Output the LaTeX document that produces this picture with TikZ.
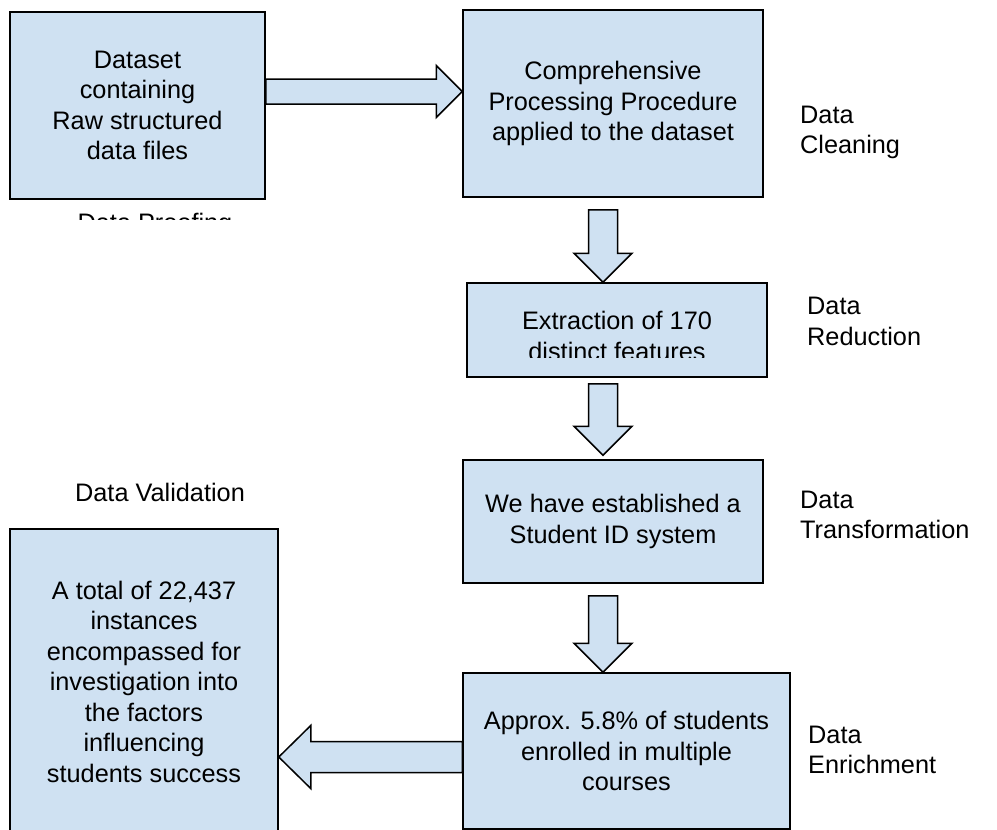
\documentclass[tikz,border=0pt]{standalone}
\usepackage{fontspec}
\setmainfont{Liberation Sans}
\usetikzlibrary{calc}
\usetikzlibrary{positioning}
\definecolor{boxblue}{RGB}{207,225,242}
\newcommand\fatarrow[5]{% start, tip, shaft half width, head half width, head length
  \coordinate (hb) at ($(#2)!#5!(#1)$);
  \draw[arrowbody] ($(#1)!#3!90:(#2)$) -- ($(hb)!#3!90:(#2)$) -- ($(hb)!#4!90:(#2)$) -- (#2)
    -- ($(hb)!#4!-90:(#2)$) -- ($(hb)!#3!-90:(#2)$) -- ($(#1)!#3!-90:(#2)$) -- cycle;
}

\begin{document}
\begin{tikzpicture}[x=1pt,y=-1pt]
  \tikzset{every node/.style={font={\fontsize{25.3}{30.5}\selectfont}}}
  \tikzset{box/.style={draw=black, line width=1.5pt, fill=boxblue, inner sep=0pt, align=center}}
  \tikzset{arrowbody/.style={draw=black, line width=1.5pt, fill=boxblue, line join=miter}}
  \tikzset{lbl/.style={inner sep=0pt, align=left, anchor=west}}

  \useasboundingbox (0,0) rectangle (997,830);
  \clip (0,0) rectangle (997,830);

  \node[box, minimum width=255pt, minimum height=187pt] (raw) at (137.5,105.5) {Dataset\\containing\\Raw structured\\data files};
  \node[box, minimum width=300pt, minimum height=187pt] (proc) at (613,103.5) {Comprehensive\\Processing Procedure\\applied to the dataset};
  \node[box, minimum width=300pt, minimum height=94pt] (extr) at (617,330) {};
  \node[box, minimum width=300pt, minimum height=123pt] (ident) at (613,521.5) {We have established a\\Student ID system};
  \node[box, minimum width=327pt, minimum height=156pt] (enrich) at (626.5,751) {Approx. 5.8\% of students\\enrolled in multiple\\courses};
  \node[box, minimum width=268pt, minimum height=305pt] (valid) at (144,681.5) {A total of 22,437\\instances\\encompassed for\\investigation into\\the factors\\influencing\\students success};

  % text running out of its box
  \begin{scope}
    \clip (extr.north west) rectangle ($(extr.south east)+(0,-20)$);
    \node[inner sep=0pt, align=center] (extrtxt) at (617,336) {Extraction of 170\\distinct features};
  \end{scope}
  \begin{scope}
    \clip (0,200) rectangle (400,219);
    \node[inner sep=0pt, anchor=base] (proof) at (155,231) {Data Proofing};
  \end{scope}

  \node[lbl] (clean) at (800,132.5) {Data\\Cleaning};
  \node[lbl] (reduce) at (807,321.5) {Data\\Reduction};
  \node[lbl] (transf) at (800,515) {Data\\Transformation};
  \node[lbl] (enrichlbl) at (808,750) {Data\\Enrichment};
  \node[inner sep=0pt, anchor=base] (validlbl) at (160,501) {Data Validation};

  \coordinate (a1s) at ([yshift=14pt]raw.east);
  \coordinate (a1t) at (a1s -| proc.west);
  \coordinate (a2s) at ([xshift=-10pt,yshift=-12pt]proc.south);
  \coordinate (a2t) at (a2s |- extr.north);
  \coordinate (a3s) at ($(a2s |- extr.south)+(0,6)$);
  \coordinate (a3t) at ($(a2s |- ident.north)+(0,-4)$);
  \coordinate (a4s) at ($(a2s |- ident.south)+(0,12)$);
  \coordinate (a4t) at (a2s |- enrich.north);
  \coordinate (a5s) at ($(enrich.west)+(0,6)$);
  \coordinate (a5t) at (a5s -| valid.east);

  \fatarrow{a1s}{a1t}{12.5pt}{26pt}{26pt}
  \fatarrow{a2s}{a2t}{14.5pt}{29pt}{29pt}
  \fatarrow{a3s}{a3t}{14.5pt}{29pt}{29pt}
  \fatarrow{a4s}{a4t}{14.5pt}{29pt}{29pt}
  \fatarrow{a5s}{a5t}{15.5pt}{31.5pt}{32pt}

\end{tikzpicture}
\end{document}
